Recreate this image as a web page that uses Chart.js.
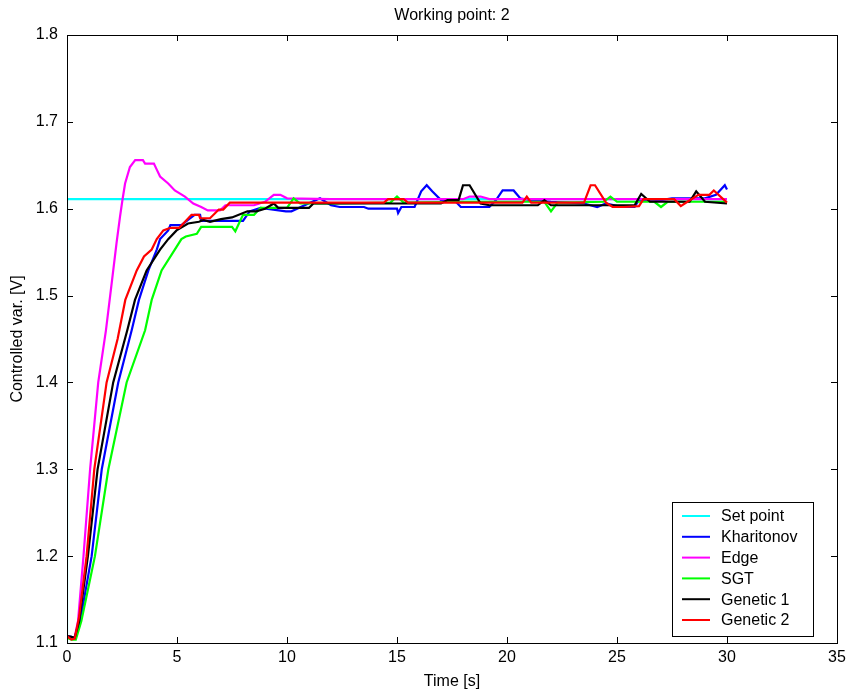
<!DOCTYPE html>
<html>
<head>
<meta charset="utf-8">
<script src="https://cdn.jsdelivr.net/npm/chart.js@4.4.1/dist/chart.umd.min.js"></script>
<style>
  body { margin: 0; background: #fff; }
  canvas { display: block; }
</style>
</head>
<body>
<canvas id="wpChart" width="851" height="694"></canvas>
<script>
// values (time in s, controlled variable in V)
const xTicks = [0, 5, 10, 15, 20, 25, 30, 35];
const yTicks = [1.1, 1.2, 1.3, 1.4, 1.5, 1.6, 1.7, 1.8];

const setT = [0, 0, 30];
const setV = [1.1, 1.611, 1.611];

const kharT = [0, 0.2, 0.35, 0.6, 1.12, 1.58, 2.33, 2.94, 3.27, 3.7, 4.08, 4.23, 4.6, 4.7, 5.2, 5.5, 5.8, 6.05, 6.1, 8.0, 8.3, 8.8, 9.95, 10.2, 10.9, 11.5, 12.0, 12.4, 13.5, 13.7, 15.0, 15.05, 15.2, 15.8, 16.1, 16.35, 16.6, 17.0, 17.6, 17.9, 19.2, 19.5, 19.8, 20.3, 20.6, 21, 22, 23.5, 24.1, 24.5, 25.2, 25.8, 26.0, 27, 27.5, 29.0, 29.5, 29.9, 30];
const kharV = [1.108, 1.107, 1.106, 1.125, 1.2, 1.3, 1.4, 1.46, 1.495, 1.529, 1.553, 1.565, 1.575, 1.581, 1.581, 1.587, 1.593, 1.593, 1.586, 1.586, 1.597, 1.601, 1.597, 1.597, 1.605, 1.612, 1.604, 1.602, 1.602, 1.6, 1.6, 1.595, 1.602, 1.602, 1.62, 1.627, 1.62, 1.61, 1.61, 1.602, 1.602, 1.61, 1.621, 1.621, 1.612, 1.61, 1.608, 1.606, 1.602, 1.606, 1.602, 1.602, 1.61, 1.61, 1.612, 1.612, 1.616, 1.627, 1.622];

const edgeT = [0, 0.2, 0.35, 0.5, 0.75, 1.05, 1.42, 1.77, 2.03, 2.25, 2.41, 2.52, 2.64, 2.86, 3.1, 3.45, 3.55, 3.95, 4.08, 4.23, 4.6, 4.9, 5.36, 5.74, 6.1, 6.4, 6.95, 7.2, 8.5, 9.0, 9.4, 9.7, 10.0, 12, 18.0, 18.3, 18.8, 19.2, 30];
const edgeV = [1.108, 1.106, 1.107, 1.125, 1.2, 1.3, 1.4, 1.46, 1.514, 1.56, 1.591, 1.61, 1.629, 1.648, 1.656, 1.656, 1.652, 1.652, 1.645, 1.637, 1.629, 1.621, 1.614, 1.606, 1.602, 1.598, 1.598, 1.604, 1.604, 1.608, 1.616, 1.616, 1.612, 1.611, 1.611, 1.614, 1.614, 1.611, 1.611];

const sgtT = [0, 0.2, 0.4, 0.65, 1.27, 1.88, 2.71, 3.55, 3.85, 4.3, 4.9, 5.2, 5.4, 5.9, 6.1, 7.5, 7.65, 8.0, 8.5, 8.8, 10.0, 10.3, 10.6, 12, 14.7, 15.0, 15.3, 18, 21.7, 22.0, 22.3, 24.4, 24.7, 25.0, 26.7, 27.0, 27.3, 30];
const sgtV = [1.106, 1.104, 1.104, 1.125, 1.2, 1.3, 1.4, 1.46, 1.495, 1.529, 1.553, 1.565, 1.568, 1.571, 1.579, 1.579, 1.574, 1.593, 1.593, 1.601, 1.601, 1.612, 1.606, 1.606, 1.607, 1.614, 1.607, 1.608, 1.608, 1.597, 1.607, 1.608, 1.614, 1.608, 1.608, 1.602, 1.608, 1.608];

const gen1T = [0, 0.2, 0.35, 0.55, 0.95, 1.39, 2.1, 2.74, 3.09, 3.62, 4.23, 4.6, 4.98, 5.5, 6.0, 6.2, 6.5, 7.0, 7.5, 8.2, 8.6, 9.0, 9.4, 9.6, 11, 11.2, 17.0, 17.3, 17.8, 18.0, 18.3, 18.8, 19.2, 21.4, 21.7, 22.0, 25.8, 26.1, 26.5, 28.3, 28.6, 29.0, 30];
const gen1V = [1.108, 1.107, 1.106, 1.125, 1.2, 1.3, 1.4, 1.46, 1.495, 1.529, 1.553, 1.565, 1.575, 1.583, 1.585, 1.587, 1.585, 1.588, 1.59, 1.597, 1.597, 1.6, 1.606, 1.601, 1.601, 1.606, 1.606, 1.61, 1.61, 1.627, 1.627, 1.606, 1.604, 1.604, 1.61, 1.604, 1.604, 1.617, 1.608, 1.608, 1.62, 1.608, 1.606];

const gen2T = [0, 0.2, 0.35, 0.55, 0.89, 1.24, 1.8, 2.3, 2.65, 3.17, 3.5, 3.85, 4.08, 4.38, 4.7, 5.1, 5.44, 5.66, 6.0, 6.05, 6.5, 6.9, 7.1, 7.4, 14.4, 14.6, 15.3, 15.5, 20.7, 20.9, 21.1, 23.5, 23.8, 24.0, 24.5, 24.8, 25.3, 26.0, 26.2, 27.6, 27.9, 28.2, 28.7, 29.2, 29.4, 30];
const gen2V = [1.108, 1.104, 1.105, 1.13, 1.2, 1.3, 1.4, 1.45, 1.495, 1.529, 1.545, 1.553, 1.565, 1.575, 1.578, 1.578, 1.587, 1.593, 1.593, 1.589, 1.589, 1.599, 1.599, 1.607, 1.607, 1.611, 1.611, 1.607, 1.607, 1.614, 1.607, 1.607, 1.627, 1.627, 1.607, 1.602, 1.602, 1.603, 1.611, 1.611, 1.603, 1.608, 1.616, 1.616, 1.621, 1.607];

function pts(t, v) {
  return t.map((x, i) => ({ x: x, y: v[i] }));
}

const font = "'Liberation Sans', Arial, Helvetica, sans-serif";
const fontSize = 16;

const series = [
  { label: 'Set point', t: setT, v: setV, color: '#00ffff' },
  { label: 'Kharitonov', t: kharT, v: kharV, color: '#0000ff' },
  { label: 'Edge', t: edgeT, v: edgeV, color: '#ff00ff' },
  { label: 'SGT', t: sgtT, v: sgtV, color: '#00ff00' },
  { label: 'Genetic 1', t: gen1T, v: gen1V, color: '#000000' },
  { label: 'Genetic 2', t: gen2T, v: gen2V, color: '#ff0000' }
];

// matlab style frame, inward ticks, title and legend box
const framePlugin = {
  id: 'frame',
  afterDraw(chart) {
    const ctx = chart.ctx;
    const a = chart.chartArea;
    const xs = chart.scales.x, ys = chart.scales.y;
    ctx.save();
    ctx.strokeStyle = '#000';
    ctx.lineWidth = 1;
    ctx.strokeRect(Math.round(a.left) + 0.5, Math.round(a.top) + 0.5, Math.round(a.right - a.left), Math.round(a.bottom - a.top));
    ctx.beginPath();
    xTicks.forEach(t => {
      const px = Math.round(xs.getPixelForValue(t)) + 0.5;
      ctx.moveTo(px, a.bottom); ctx.lineTo(px, a.bottom - 6);
      ctx.moveTo(px, a.top); ctx.lineTo(px, a.top + 6);
    });
    yTicks.forEach(v => {
      const py = Math.round(ys.getPixelForValue(v)) + 0.5;
      ctx.moveTo(a.left, py); ctx.lineTo(a.left + 6, py);
      ctx.moveTo(a.right, py); ctx.lineTo(a.right - 6, py);
    });
    ctx.stroke();

    // title
    ctx.fillStyle = '#000';
    ctx.font = fontSize + 'px ' + font;
    ctx.textAlign = 'center';
    ctx.textBaseline = 'middle';
    ctx.fillText('Working point: 2', (a.left + a.right) / 2, 16);

    // legend
    const lx = 672, ly = 502, lw = 141, lh = 134;
    ctx.fillStyle = '#fff';
    ctx.fillRect(lx, ly, lw, lh);
    ctx.strokeRect(lx + 0.5, ly + 0.5, lw, lh);
    ctx.textAlign = 'left';
    series.forEach((s, i) => {
      const y = ly + 14 + i * 20.8;
      ctx.strokeStyle = s.color;
      ctx.lineWidth = 2;
      ctx.beginPath();
      ctx.moveTo(682, y); ctx.lineTo(710, y);
      ctx.stroke();
      ctx.fillStyle = '#000';
      ctx.fillText(s.label, 721, y + 1);
    });
    ctx.restore();
  }
};

new Chart(document.getElementById('wpChart'), {
  type: 'scatter',
  data: {
    datasets: series.map((s, i) => ({
      label: s.label,
      data: pts(s.t, s.v),
      showLine: true,
      borderColor: s.color,
      backgroundColor: s.color,
      borderWidth: 2.2,
      pointRadius: 0,
      tension: 0,
      order: series.length - i
    }))
  },
  options: {
    responsive: false,
    animation: false,
    layout: { padding: { left: 0, right: 14, top: 35, bottom: 0 } },
    plugins: { legend: { display: false }, tooltip: { enabled: false } },
    scales: {
      x: {
        type: 'linear', min: 0, max: 35,
        afterBuildTicks: s => { s.ticks = xTicks.map(v => ({ value: v })); },
        afterFit: s => { s.height = 51; },
        ticks: { color: '#000', padding: 5, font: { family: font, size: fontSize } },
        grid: { display: false, drawTicks: false },
        border: { display: false },
        title: { display: true, text: 'Time [s]', color: '#000', font: { family: font, size: fontSize }, padding: { top: 0, bottom: 3 } }
      },
      y: {
        type: 'linear', min: 1.1, max: 1.8,
        afterBuildTicks: s => { s.ticks = yTicks.map(v => ({ value: v })); },
        afterFit: s => { s.width = 67; },
        ticks: { color: '#000', padding: 9, font: { family: font, size: fontSize }, callback: v => v.toFixed(1) },
        grid: { display: false, drawTicks: false },
        border: { display: false },
        title: { display: true, text: 'Controlled var. [V]', color: '#000', font: { family: font, size: fontSize }, padding: { top: 8, bottom: 0 } }
      }
    }
  },
  plugins: [framePlugin]
});
</script>
</body>
</html>
